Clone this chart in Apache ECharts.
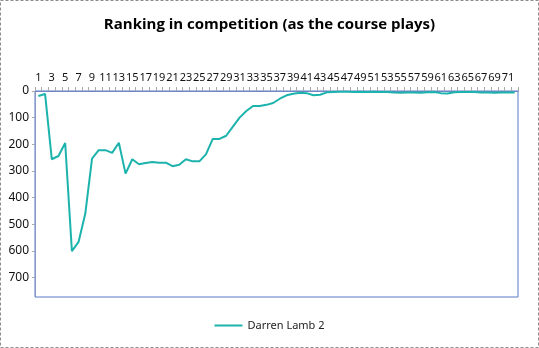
<!DOCTYPE html>
<html><head><meta charset="utf-8">
<script src="https://cdn.jsdelivr.net/npm/echarts@6/dist/echarts.min.js"></script>
<style>html,body{margin:0;padding:0;background:#fff}#c{width:539px;height:348px}</style>
</head><body><div id="c"></div>
<script>
const holes = Array.from({length:72},(_,i)=>String(i+1));
const seriesName = 'Darren Lamb 2';
const ranking = [19,11,256,244,195,601,566,460,254,222,
  222,232,194,310,256,275,270,266,269,269,
  282,277,256,264,264,237,180,180,168,134,
  100,75,56,56,52,45,29,16,10,7,
  8,16,14,5,4,3,3,4,3,4,
  3,4,4,6,7,6,6,7,5,4,
  8,9,5,4,4,4,6,6,7,6,6,6];
const yTicks = [0,100,200,300,400,500,600,700];

const chart = echarts.init(document.getElementById('c'));
chart.setOption({
  animation:false,
  title:{text:'Ranking in competition (as the course plays)',left:'center',top:12,
    textStyle:{fontFamily:'Open Sans',fontWeight:'bold',fontSize:15,color:'#000'}},
  graphic:[{type:'rect',shape:{x:0.5,y:0.5,width:538,height:347},
    style:{fill:'none',stroke:'#8c8c8c',lineWidth:1,lineDash:[3,2]}}],
  legend:{bottom:12,left:'center',itemWidth:28,itemHeight:2,icon:'rect',itemGap:4,
    textStyle:{fontFamily:'Noto Sans',fontSize:11,color:'#222'},data:[seriesName]},
  grid:{left:35,right:21,top:91,bottom:51,show:true,borderColor:'#5a78c8',borderWidth:1},
  xAxis:{type:'category',position:'top',data:holes,boundaryGap:true,
    axisLine:{lineStyle:{color:'#6f86c4'}},
    axisTick:{show:true,interval:0,length:4,lineStyle:{color:'#aaa'}},
    axisLabel:{interval:1,fontFamily:'Noto Sans',fontSize:11,color:'#111',margin:8,hideOverlap:false}},
  yAxis:{type:'value',inverse:true,min:0,max:773,interval:100,
    axisLine:{show:true,lineStyle:{color:'#8a9bc8'}},
    axisTick:{show:true,length:3,lineStyle:{color:'#aaa'}},
    splitLine:{show:false},
    axisLabel:{showMaxLabel:false,fontFamily:'Noto Sans',fontSize:12,color:'#111',margin:6,
      formatter:v=>yTicks.includes(v)?String(v):''}},
  series:[{name:seriesName,type:'line',data:ranking,showSymbol:false,symbol:'none',
    lineStyle:{color:'#1db3ad',width:2},itemStyle:{color:'#1db3ad'}}]
});
</script></body></html>
